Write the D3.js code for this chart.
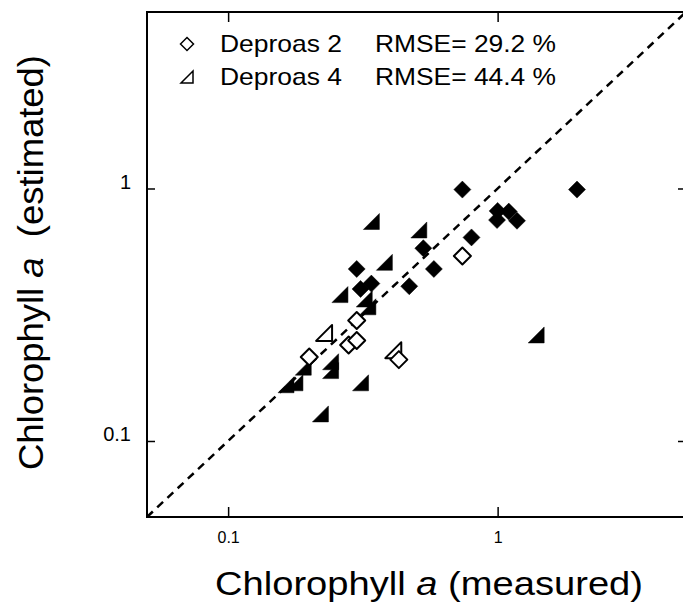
<!DOCTYPE html>
<html>
<head>
<meta charset="utf-8">
<script src="https://cdn.jsdelivr.net/npm/d3@7"></script>
<style>
  body { margin: 0; background: #fff; }
  svg { display: block; font-family: "Liberation Sans", Arial, sans-serif; }
</style>
</head>
<body>
<div id="chart"></div>
<script>
// measured / estimated chlorophyll a
const deproas2Filled = [
  [1.97, 0.99], [0.74, 0.99], [1.00, 0.815], [0.995, 0.75], [1.10, 0.81],
  [1.18, 0.745], [0.80, 0.64], [0.53, 0.58], [0.58, 0.48], [0.30, 0.48],
  [0.47, 0.41], [0.31, 0.40], [0.34, 0.42]
];
const deproas2Open = [
  [0.74, 0.54], [0.30, 0.30], [0.28, 0.24], [0.30, 0.25], [0.43, 0.21], [0.20, 0.215]
];
const deproas4Filled = [
  [0.34, 0.74], [0.51, 0.685], [0.38, 0.51], [0.26, 0.38], [0.32, 0.365],
  [0.33, 0.34], [0.19, 0.196], [0.24, 0.206], [0.24, 0.19], [0.164, 0.167],
  [0.177, 0.17], [0.31, 0.17], [0.22, 0.128], [1.39, 0.263]
];
const deproas4Open = [[0.227, 0.268], [0.41, 0.229]];

const legendRows = [
  { name: 'Deproas 2', rmse: 'RMSE= 29.2 %', shape: 'diamond' },
  { name: 'Deproas 4', rmse: 'RMSE= 44.4 %', shape: 'triangle' }
];
const tickValues = [0.1, 1];
const domain = [0.05, 5];

const W = 683, H = 602;
const margin = { top: 12, right: -3, bottom: 85, left: 147 };

const svg = d3.select('#chart').append('svg')
  .attr('width', W)
  .attr('height', H);

const x = d3.scaleLog().domain(domain).range([margin.left, W - margin.right]);
const y = d3.scaleLog().domain(domain).range([H - margin.bottom, margin.top]);

const x0 = x.range()[0], x1 = x.range()[1];
const y0 = y.range()[0], y1 = y.range()[1];

// inward ticks on all four sides
const fmt = d => d === 1 ? '1' : '0.1';
svg.append('g')
  .attr('class', 'xaxis')
  .attr('transform', `translate(0,${y0})`)
  .call(d3.axisBottom(x).tickValues(tickValues).tickSize(-10).tickPadding(15).tickFormat(fmt))
  .call(g => g.select('.domain').remove());
svg.append('g')
  .attr('transform', `translate(0,${y1})`)
  .call(d3.axisTop(x).tickValues(tickValues).tickSize(-10).tickFormat(''))
  .call(g => g.select('.domain').remove());
svg.append('g')
  .attr('class', 'yaxis')
  .attr('transform', `translate(${x0},0)`)
  .call(d3.axisLeft(y).tickValues(tickValues).tickSize(-8).tickPadding(16).tickFormat(fmt))
  .call(g => g.select('.domain').remove());
svg.append('g')
  .attr('transform', `translate(${x1},0)`)
  .call(d3.axisRight(y).tickValues(tickValues).tickSize(-8).tickFormat(''))
  .call(g => g.select('.domain').remove());

svg.selectAll('.tick line').attr('stroke', '#000').attr('stroke-width', 1.5);
svg.selectAll('.tick text').attr('fill', '#000')
  .attr('font-family', '"Liberation Sans", Arial, sans-serif');
svg.selectAll('.xaxis .tick text').style('font-size', '16px');
svg.selectAll('.yaxis .tick text').style('font-size', '20px').attr('dy', '0');

// frame
svg.append('rect')
  .attr('x', x0).attr('y', y1)
  .attr('width', x1 - x0).attr('height', y0 - y1)
  .attr('fill', 'none').attr('stroke', '#000').attr('stroke-width', 2);

// 1:1 line
svg.append('line')
  .attr('x1', x(domain[0])).attr('y1', y(domain[0]))
  .attr('x2', x(domain[1])).attr('y2', y(domain[1]))
  .attr('stroke', '#000').attr('stroke-width', 2.5)
  .attr('stroke-dasharray', '8,6');

const diamondPath = s => `M0,${-s}L${s},0L0,${s}L${-s},0Z`;
const trianglePath = s => `M${-s},${s}L${s},${s}L${s},${-s}Z`;

function drawPoints(data, shape, filled) {
  svg.append('g').selectAll('path')
    .data(data)
    .join('path')
    .attr('transform', d => `translate(${x(d[0])},${y(d[1])})`)
    .attr('d', shape === 'diamond' ? diamondPath(8.5) : trianglePath(8))
    .attr('fill', filled ? '#000' : '#fff')
    .attr('stroke', '#000')
    .attr('stroke-width', filled ? 0.5 : 2)
    .attr('stroke-linejoin', 'round');
}

drawPoints(deproas4Filled, 'triangle', true);
drawPoints(deproas2Filled, 'diamond', true);
drawPoints(deproas4Open, 'triangle', false);
drawPoints(deproas2Open, 'diamond', false);

// legend
const legend = svg.append('g');
legendRows.forEach((r, i) => {
  const cy = 44 + i * 33;
  legend.append('path')
    .attr('transform', `translate(187,${cy})`)
    .attr('d', r.shape === 'diamond' ? diamondPath(6.5) : trianglePath(6))
    .attr('fill', '#fff').attr('stroke', '#000').attr('stroke-width', 1.5);
  legend.append('text')
    .attr('x', 220).attr('y', cy + 8)
    .attr('font-size', 24)
    .attr('textLength', 122).attr('lengthAdjust', 'spacingAndGlyphs')
    .text(r.name);
  legend.append('text')
    .attr('x', 375).attr('y', cy + 8)
    .attr('font-size', 24)
    .attr('textLength', 181).attr('lengthAdjust', 'spacingAndGlyphs')
    .text(r.rmse);
});

// axis titles
const xt = svg.append('text')
  .attr('x', 215).attr('y', 595)
  .attr('font-size', 33)
  .attr('textLength', 428).attr('lengthAdjust', 'spacingAndGlyphs');
xt.append('tspan').text('Chlorophyll ');
xt.append('tspan').attr('font-style', 'italic').text('a');
xt.append('tspan').text(' (measured)');

const yt = svg.append('text')
  .attr('transform', 'translate(43,470) rotate(-90)')
  .attr('font-size', 35)
  .attr('textLength', 415).attr('lengthAdjust', 'spacingAndGlyphs')
  .attr('xml:space', 'preserve');
yt.append('tspan').text('Chlorophyll ');
yt.append('tspan').attr('font-style', 'italic').text('a');
yt.append('tspan').text('  (estimated)');
</script>
</body>
</html>
